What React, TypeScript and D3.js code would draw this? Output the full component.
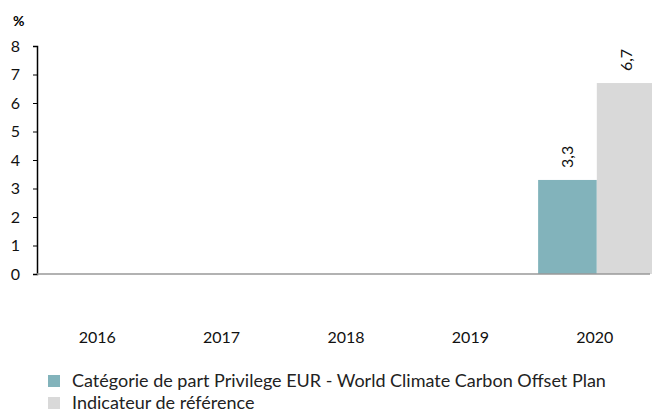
import { useEffect, useRef } from "react";
import * as d3 from "d3";

const YEARS = ["2016", "2017", "2018", "2019", "2020"];
const FUND: (number | null)[] = [null, null, null, null, 3.3];
const BENCH: (number | null)[] = [null, null, null, null, 6.7];
const SERIES_NAMES = [
  "Catégorie de part Privilege EUR - World Climate Carbon Offset Plan",
  "Indicateur de référence",
];
const Y_TICKS = [0, 1, 2, 3, 4, 5, 6, 7, 8];

const TEAL = "#82B3BB";
const GREY = "#D9D9D9";
const FONT = "Lato, 'Open Sans', sans-serif";

export default function App() {
  const svgRef = useRef<SVGSVGElement>(null);

  useEffect(() => {
    if (!svgRef.current) return;
    const W = 652, H = 414;
    const svg = d3.select(svgRef.current);
    svg.selectAll("*").remove();

    const left = 37, right = 659, top = 46, bottom = 274;

    const x = d3.scaleBand().domain(YEARS).range([left, right]);
    const x1 = d3.scaleBand().domain(["fund", "bench"]).range([0, x.bandwidth()]).paddingOuter(0.06);
    const y = d3.scaleLinear().domain([0, 8]).range([bottom, top]);

    // y axis
    const yAxis = svg.append("g")
      .attr("transform", `translate(${left},0)`)
      .call(d3.axisLeft(y).tickValues(Y_TICKS).tickSize(4).tickFormat(d => String(d)));
    yAxis.select(".domain").attr("stroke", "#000").attr("stroke-width", 1.5);
    yAxis.selectAll("line").attr("stroke", "#000");
    yAxis.selectAll("text")
      .attr("fill", "#111")
      .attr("font-size", "16px")
      .attr("font-family", FONT)
      .attr("x", -17)
      .attr("text-anchor", "end");

    svg.append("text")
      .attr("x", 13).attr("y", 26)
      .attr("font-size", "14px").attr("font-weight", "bold")
      .attr("font-family", FONT)
      .text("%");

    const rows = YEARS.map((yr, i) => ({ yr, fund: FUND[i], bench: BENCH[i] }));

    const groups = svg.append("g").selectAll("g").data(rows).join("g")
      .attr("transform", d => `translate(${x(d.yr)},0)`);

    const barData = (d: typeof rows[number]) => [
      { key: "fund", v: d.fund, c: TEAL },
      { key: "bench", v: d.bench, c: GREY },
    ].filter(b => b.v != null) as { key: string; v: number; c: string }[];

    groups.selectAll("rect").data(barData).join("rect")
      .attr("x", b => x1(b.key)!)
      .attr("y", b => y(b.v))
      .attr("width", x1.bandwidth())
      .attr("height", b => y(0) - y(b.v))
      .attr("fill", b => b.c);

    groups.selectAll("text.val").data(barData).join("text")
      .attr("class", "val")
      .attr("transform", b => `translate(${x1(b.key)! + x1.bandwidth() / 2 + 6},${y(b.v) - 12}) rotate(-90)`)
      .attr("font-size", "16px")
      .attr("font-family", FONT)
      .attr("fill", "#111")
      .text(b => String(b.v).replace(".", ","));

    // x axis line
    svg.append("line")
      .attr("x1", left).attr("x2", 650)
      .attr("y1", y(0)).attr("y2", y(0))
      .attr("stroke", "#999").attr("stroke-width", 1.5);

    svg.append("g").selectAll("text").data(YEARS).join("text")
      .attr("x", d => x(d)! + x.bandwidth() / 2 - 2)
      .attr("y", 343)
      .attr("text-anchor", "middle")
      .attr("font-size", "16px")
      .attr("font-family", FONT)
      .attr("fill", "#111")
      .text(d => d);

    // legend
    const legend = svg.append("g");
    SERIES_NAMES.forEach((name, i) => {
      const ly = 381 + i * 22;
      legend.append("rect")
        .attr("x", 48).attr("y", ly - 6).attr("width", 12).attr("height", 12)
        .attr("fill", i === 0 ? TEAL : GREY);
      legend.append("text")
        .attr("x", 72).attr("y", ly + 6)
        .attr("font-size", "18px")
        .attr("font-family", FONT)
        .attr("fill", "#222")
        .text(name);
    });

    svg.attr("width", W).attr("height", H);
  }, []);

  return (
    <svg ref={svgRef} width={652} height={414}
      style={{ position: "absolute", left: 0, top: 0, background: "#fff" }} />
  );
}
